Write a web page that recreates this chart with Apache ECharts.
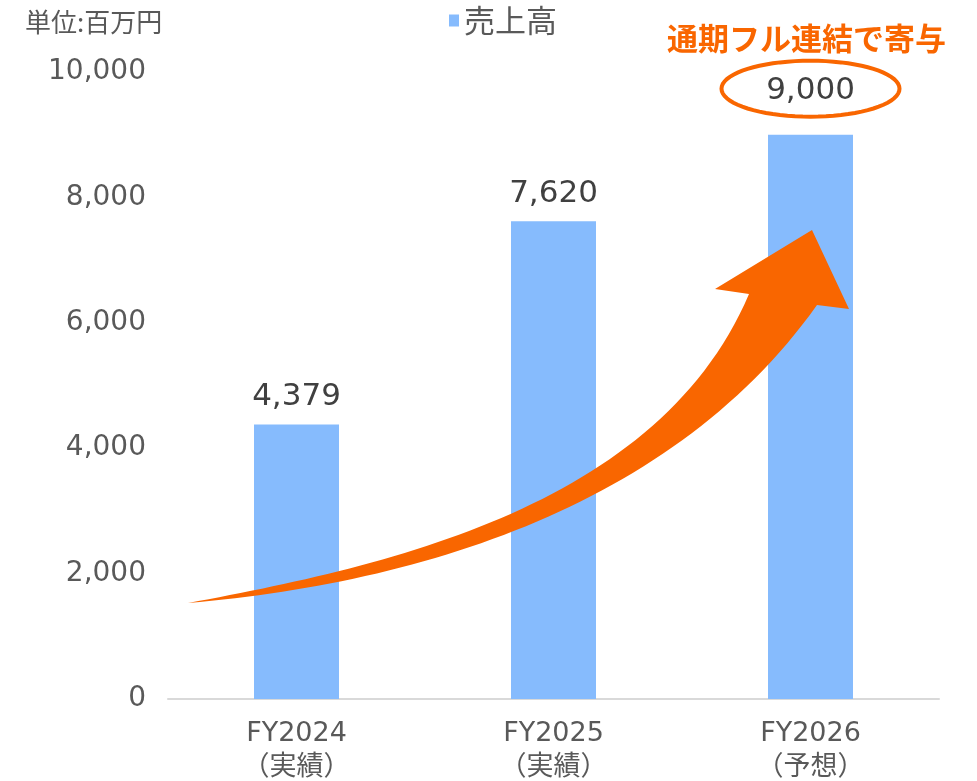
<!DOCTYPE html>
<html>
<head>
<meta charset="utf-8">
<script src="https://cdn.jsdelivr.net/npm/echarts@6/dist/echarts.min.js"></script>
<style>
  html, body { margin: 0; padding: 0; background: #fff; }
  #chart { width: 977px; height: 781px; }
</style>
</head>
<body>
<div id="chart"></div>
<script>
const categories = ['FY2024\n（実績）', 'FY2025\n（実績）', 'FY2026\n（予想）']
const sales = [4379, 7620, 9000]
const yTicks = [0, 2000, 4000, 6000, 8000, 10000]
const seriesName = '売上高'
const unitText = '単位:百万円'
const noteText = '通期フル連結で寄与'

// Verdana-like latin (close to Meiryo) with CJK fallback
const font = '"DejaVu Sans", "Noto Sans CJK JP", sans-serif'
const cjkFont = '"Noto Sans CJK JP", sans-serif'
const orange = '#F96600'

const chart = echarts.init(document.getElementById('chart'))

const option = {
  animation: false,
  textStyle: { fontFamily: font },
  grid: { left: 168, right: 38, top: 72, bottom: 82, outerBoundsMode: 'none', containLabel: false },
  legend: {
    data: [seriesName],
    left: 444,
    top: 0,
    icon: 'rect',
    itemWidth: 10,
    itemHeight: 12,
    itemGap: 4,
    textStyle: { fontSize: 31, color: '#595959', fontFamily: cjkFont }
  },
  title: [
    {
      text: unitText,
      left: 20,
      top: 4,
      textStyle: { fontSize: 26, fontWeight: 'normal', color: '#595959', fontFamily: cjkFont }
    },
    {
      text: noteText,
      right: 26,
      top: 18,
      textStyle: { fontSize: 31, fontWeight: 'bold', color: orange, fontFamily: cjkFont }
    }
  ],
  xAxis: {
    type: 'category',
    data: categories,
    axisLine: { lineStyle: { color: '#D9D9D9', width: 2 } },
    axisTick: { show: false },
    axisLabel: {
      fontSize: 27,
      color: '#595959',
      lineHeight: 34,
      margin: 18,
      fontFamily: font
    }
  },
  yAxis: {
    type: 'value',
    min: yTicks[0],
    max: yTicks[yTicks.length - 1],
    interval: yTicks[1] - yTicks[0],
    splitLine: { show: false },
    axisLine: { show: false },
    axisTick: { show: false },
    axisLabel: {
      fontSize: 28,
      color: '#595959',
      margin: 22,
      fontFamily: font,
      formatter: v => v.toLocaleString('en-US')
    }
  },
  series: [
    {
      name: seriesName,
      type: 'bar',
      barWidth: 85,
      itemStyle: { color: '#86BBFD' },
      data: sales.map((v, i) => i === 2
        ? { value: v, label: { distance: 28 } }
        : v),
      label: {
        show: true,
        position: 'top',
        distance: 12,
        fontSize: 31,
        color: '#404040',
        fontFamily: font,
        formatter: p => p.value.toLocaleString('en-US')
      }
    }
  ]
}

chart.setOption(option)

// --- annotations: swoosh arrow + ellipse round the forecast label ---
// least-squares cubic bezier through the traced outline, ends fixed
function fitCubic (pts) {
  const P0 = pts[0]
  const P3 = pts[pts.length - 1]
  const d = [0]
  for (let i = 1; i < pts.length; i++) {
    d.push(d[i - 1] + Math.hypot(pts[i][0] - pts[i - 1][0], pts[i][1] - pts[i - 1][1]))
  }
  const ts = d.map(v => v / d[d.length - 1])
  let s11 = 0, s12 = 0, s22 = 0
  const r1 = [0, 0], r2 = [0, 0]
  ts.forEach((t, i) => {
    const a = (1 - t) ** 3, b = 3 * t * (1 - t) ** 2, c = 3 * t * t * (1 - t), e = t ** 3
    s11 += b * b; s12 += b * c; s22 += c * c
    for (let j = 0; j < 2; j++) {
      const R = pts[i][j] - a * P0[j] - e * P3[j]
      r1[j] += b * R; r2[j] += c * R
    }
  })
  const det = s11 * s22 - s12 * s12
  const P1 = [0, 1].map(j => (s22 * r1[j] - s12 * r2[j]) / det)
  const P2 = [0, 1].map(j => (s11 * r2[j] - s12 * r1[j]) / det)
  return [P0, P1, P2, P3]
}

function sampleCubic ([p0, p1, p2, p3], n) {
  const out = []
  for (let i = 0; i <= n; i++) {
    const t = i / n
    const a = (1 - t) ** 3, b = 3 * t * (1 - t) ** 2, c = 3 * t * t * (1 - t), e = t ** 3
    out.push([0, 1].map(j => a * p0[j] + b * p1[j] + c * p2[j] + e * p3[j]))
  }
  return out
}

const upperEdge = [[188, 603], [254, 594], [339, 572], [510, 511], [597, 463], [648, 430], [692, 393], [730, 343], [749, 294]]
const lowerEdge = [[188, 603], [254, 597], [339, 581], [510, 531], [600, 493], [675, 447], [723, 407], [771, 360], [817, 305]]
const arrowHead = [[715, 289], [812, 230], [849, 309]]

const arrowPts = [
  ...sampleCubic(fitCubic(upperEdge), 60),
  ...arrowHead,
  ...sampleCubic(fitCubic(lowerEdge), 60).reverse()
]

const top3 = chart.convertToPixel({ seriesIndex: 0 }, [2, sales[2]])
const cx = top3[0]
const cy = top3[1] - 46
const rx = 89
const ry = 28
const ellPts = []
for (let i = 0; i < 72; i++) {
  const a = (i / 72) * Math.PI * 2
  ellPts.push([cx + rx * Math.cos(a), cy + ry * Math.sin(a)])
}

chart.setOption({
  graphic: [
    {
      type: 'polygon',
      z: 10,
      shape: { points: arrowPts },
      style: { fill: orange }
    },
    {
      type: 'polygon',
      z: 10,
      shape: { points: ellPts },
      style: { fill: 'none', stroke: orange, lineWidth: 4 }
    }
  ]
})
</script>
</body>
</html>
